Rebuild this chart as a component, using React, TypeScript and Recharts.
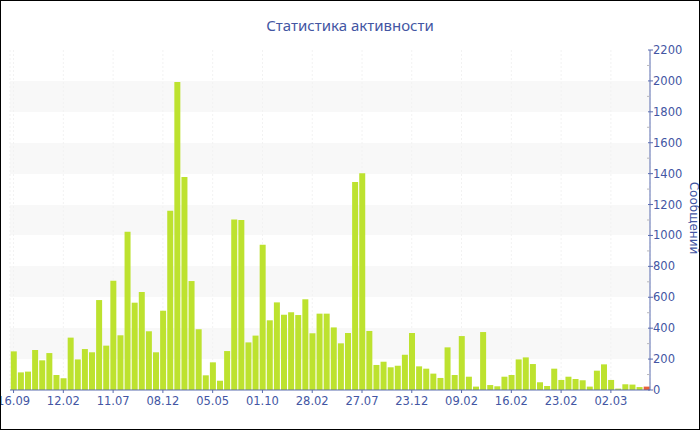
import React from "react";
import { BarChart, Bar, XAxis, YAxis, CartesianGrid, Cell } from "recharts";

const values: number[] = [
  250, 114, 119, 259, 192, 239, 97, 76, 339, 198,
  265, 244, 582, 287, 707, 354, 1024, 565, 634, 380,
  244, 513, 1160, 1993, 1378, 705, 393, 95, 179, 60,
  252, 1104, 1100, 308, 352, 940, 451, 567, 487, 503,
  485, 587, 367, 494, 494, 405, 302, 369, 1346, 1402,
  382, 162, 183, 147, 157, 228, 369, 153, 138, 106,
  78, 276, 97, 349, 86, 22, 375, 32, 24, 86,
  97, 198, 211, 168, 50, 26, 138, 65, 86, 71,
  63, 22, 125, 166, 65, 9, 37, 35, 19, 22,
];

const tickLabels: string[] = [
  "16.09", "12.02", "11.07", "08.12", "05.05", "01.10", "28.02",
  "27.07", "23.12", "09.02", "16.02", "23.02", "02.03",
];
const tickEvery = 7;
const currentPeriodIndex = 89;
const yMax = 2200;
const yMinorStep = 100;
const yMajorStep = 200;

const title = "Статистика активности";
const yLabel = "Сообщений";

const BAR_COLOR = "#bde22f";
const CURRENT_COLOR = "#e8603a";
const AXIS_COLOR = "#5a6cb0";
const TEXT_COLOR = "#4356a3";
const FONT = "'DejaVu Sans', Verdana, sans-serif";
const TITLE_FONT = "'Noto Sans', 'Open Sans', sans-serif";

const data = values.map((v, i) => ({ idx: i, value: v }));
const xTicks = tickLabels.map((_, i) => i * tickEvery);
const yTicks: number[] = [];
for (let v = 0; v <= yMax; v += yMinorStep) yTicks.push(v);

const YTick = (props: any) => {
  const { x, y, payload } = props;
  const major = payload.value % yMajorStep === 0;
  const ax = x - 3;
  return (
    <g>
      {major ? (
        <line x1={ax - 2} x2={ax + 3} y1={y} y2={y} stroke={AXIS_COLOR} strokeWidth={1} />
      ) : (
        <line x1={ax - 3} x2={ax} y1={y} y2={y} stroke="#b8b8c0" strokeWidth={1} />
      )}
      {major && (
        <text x={ax + 3} y={y} dy="0.35em" textAnchor="start" fill={TEXT_COLOR} fontSize={11.5} fontFamily={FONT}>
          {payload.value}
        </text>
      )}
    </g>
  );
};

export default function App() {
  return (
    <div
      style={{
        position: "absolute",
        left: 0,
        top: 0,
        width: 700,
        height: 430,
        boxSizing: "border-box",
        border: "1px solid #000",
        background: "#fff",
        overflow: "hidden",
      }}
    >
      <div
        style={{
          position: "absolute",
          left: 0,
          top: 14,
          width: 698,
          textAlign: "center",
          fontFamily: TITLE_FONT,
          fontSize: 15,
          lineHeight: "20px",
          color: TEXT_COLOR,
        }}
      >
        {title}
      </div>
      <div
        style={{
          position: "absolute",
          left: 693,
          top: 217,
          transform: "translate(-50%, -50%) rotate(90deg)",
          fontFamily: FONT,
          fontSize: 12,
          lineHeight: "14px",
          color: TEXT_COLOR,
          whiteSpace: "nowrap",
        }}
      >
        {yLabel}
      </div>
      <BarChart
        width={698}
        height={428}
        data={data}
        margin={{ top: 49, right: 0, bottom: 9, left: 9 }}
        barCategoryGap="11%"
      >
        <CartesianGrid
          vertical={false}
          stroke="none"
          horizontalFill={["#ffffff", "#ffffff", "#f8f8f8", "#f8f8f8"]}
        />
        <CartesianGrid
          horizontal={false}
          vertical={true}
          stroke="#f2f2f2"
          strokeDasharray="2 2"
        />
        <XAxis
          dataKey="idx"
          type="category"
          ticks={xTicks}
          interval={0}
          tickFormatter={(v: number) => tickLabels[Math.round(v / tickEvery)] ?? ""}
          axisLine={{ stroke: AXIS_COLOR }}
          tickLine={{ stroke: AXIS_COLOR }}
          tickSize={3}
          tickMargin={4}
          height={30}
          tick={{ fill: TEXT_COLOR, fontSize: 11.5, fontFamily: FONT }}
        />
        <YAxis
          orientation="right"
          domain={[0, yMax]}
          ticks={yTicks}
          interval={0}
          allowDataOverflow
          axisLine={{ stroke: AXIS_COLOR }}
          tickLine={false}
          tickSize={3}
          tickMargin={0}
          width={49}
          tick={<YTick />}
        />
        <Bar dataKey="value" fill={BAR_COLOR} isAnimationActive={false}>
          {data.map((d) => (
            <Cell key={d.idx} fill={d.idx === currentPeriodIndex ? CURRENT_COLOR : BAR_COLOR} />
          ))}
        </Bar>
      </BarChart>
    </div>
  );
}
